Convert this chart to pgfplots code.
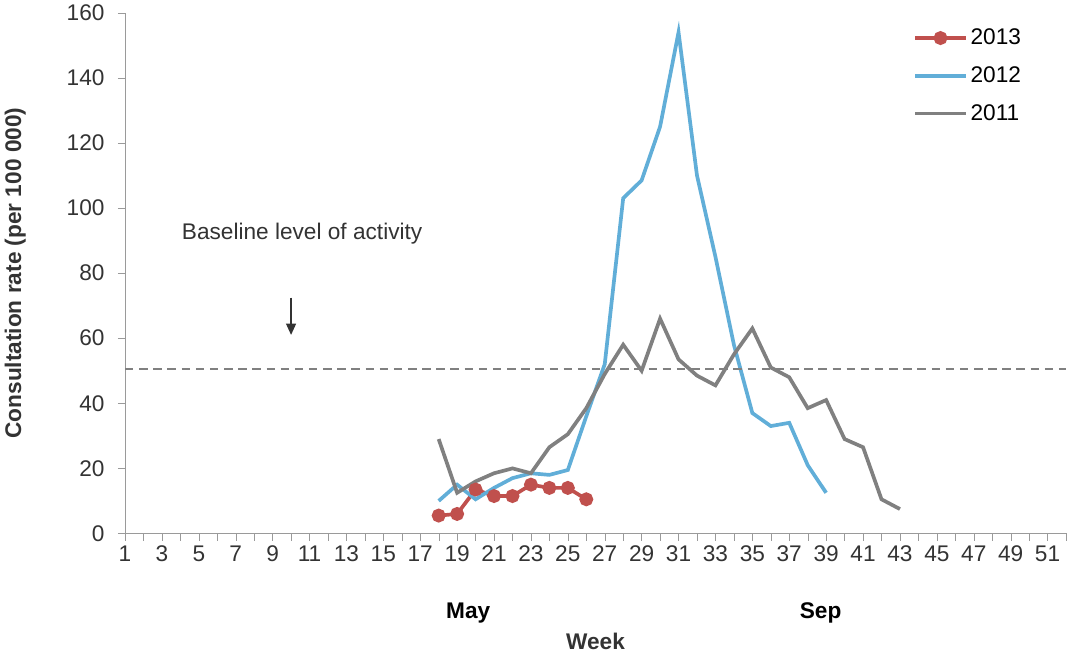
\documentclass[border=0pt]{standalone}
\usepackage{pgfplots}
\pgfplotsset{compat=1.18}
\usepackage{fontspec}
\setmainfont{Liberation Sans}
\definecolor{cR}{RGB}{192,80,77}
\definecolor{cB}{RGB}{97,174,216}
\definecolor{cG}{RGB}{128,128,128}
\usetikzlibrary{arrows.meta}
\begin{document}
\begin{tikzpicture}
\begin{axis}[
  scale only axis, width=665pt, height=368pt,
  xmin=1, xmax=52, ymin=0, ymax=160,
  xtick={1,3,...,51}, minor xtick={2,4,...,52},
  ytick={0,20,...,160},
  axis x line=bottom, axis y line=left,
  axis line style={cG!80, -}, tick style={cG!80},
  tick align=outside, major tick length=5pt, minor tick length=5pt,
  /pgf/number format/assume math mode=true,
  ticklabel style={font=\fontsize{16}{18}\selectfont, color=black!80},
  yticklabel style={xshift=-6pt},
  ylabel={\textbf{Consultation rate (per 100 000)}},
  ylabel style={font=\fontsize{16}{18}\selectfont, color=black!80, yshift=22pt},
  xlabel={\textbf{Week}},
  xlabel style={font=\fontsize{16}{18}\selectfont, color=black!80, yshift=-44pt},
  legend style={at={(0.96,0.98)}, anchor=north east, draw=none, font=\fontsize{16}{18}\selectfont, row sep=10pt},
  legend image code/.code={\draw[#1] (0pt,0pt) -- (36pt,0pt); \draw[#1, only marks] plot coordinates {(18pt,0pt)};},
  legend cell align=left,
  clip=false,
]
\addplot[cR, line width=2.6pt, mark=*, mark size=3.6pt] coordinates {(18,5.5)(19,6)(20,13.5)(21,11.5)(22,11.5)(23,15)(24,14)(25,14)(26,10.5)};
\addlegendentry{2013}
\addplot[cB, line width=2.6pt] coordinates {(18,10)(19,15)(20,10.5)(21,14)(22,17)(23,18.5)(24,18)(25,19.5)(26,36)(27,52)(28,103)(29,108.5)(30,125)(31,154)(32,110)(33,85)(34,58)(35,37)(36,33)(37,34)(38,21)(39,12.5)};
\addlegendentry{2012}
\addplot[cG, line width=2.6pt] coordinates {(18,29)(19,12.5)(20,16)(21,18.5)(22,20)(23,18.5)(24,26.5)(25,30.5)(26,38.5)(27,49)(28,58)(29,50)(30,66)(31,53.5)(32,48.5)(33,45.5)(34,55)(35,63)(36,51)(37,48)(38,38.5)(39,41)(40,29)(41,26.5)(42,10.5)(43,7.5)};
\addlegendentry{2011}
\draw[cG, dash pattern=on 6pt off 4pt, line width=1.4pt] (axis cs:1,50.5) -- (axis cs:52,50.5);
\draw[black!80, line width=1pt, -{Triangle[length=8pt,width=7pt]}] (axis cs:10,72.5) -- (axis cs:10,61);
\node[font=\fontsize{16}{18}\selectfont, color=black!80] at (axis cs:10.6,92) {Baseline level of activity};
\node[font=\fontsize{16}{18}\selectfont\bfseries] at (axis cs:19.6,-24.5) {May};
\node[font=\fontsize{16}{18}\selectfont\bfseries] at (axis cs:38.7,-24.5) {Sep};
\end{axis}
\end{tikzpicture}
\end{document}
